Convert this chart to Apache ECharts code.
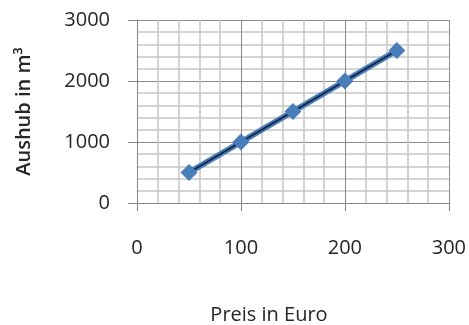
<!DOCTYPE html>
<html>
<head>
<meta charset="UTF-8">
<title>Aushub</title>
<script type="text/javascript" src="https://cdn.jsdelivr.net/npm/echarts@6/dist/echarts.min.js"></script>
</head>
<body style="margin:0;background:#fff">
	<div id="show" style="width:469px;height:325px"></div>
	<script type="text/javascript">
		// Preis in Euro -> Aushub in m3
		var preis=[50,100,150,200,250];
		var aushub=[500,1000,1500,2000,2500];
		var xTicks=[0,100,200,300];
		var yTicks=[0,1000,2000,3000];

		var pts=[];
		for(var i=0;i<preis.length;i++){
			pts.push([preis[i],aushub[i]]);
		}
		var font='"Open Sans", sans-serif';

		var myCharts=echarts.init(document.getElementById('show'));
		myCharts.setOption({
			animation:false,
			grid:{left:137,right:18,top:20,bottom:122},
			xAxis:{
				type:'value',
				min:xTicks[0],
				max:xTicks[xTicks.length-1],
				interval:100,
				axisLine:{show:true,lineStyle:{color:'#868686',width:1}},
				axisTick:{show:true,length:8,lineStyle:{color:'#868686'}},
				axisLabel:{margin:35,fontFamily:font,fontSize:20,color:'#262626',
					formatter:function(v){return String(v);}},
				splitLine:{show:true,lineStyle:{color:'#8a8a8a',width:1}},
				minorTick:{show:false,splitNumber:5},
				minorSplitLine:{show:true,lineStyle:{color:'#c6c6c6',width:1.5}}
			},
			yAxis:{
				type:'value',
				min:yTicks[0],
				max:yTicks[yTicks.length-1],
				interval:1000,
				name:'Aushub in m\u00b3',
				nameLocation:'middle',
				nameGap:103,
				nameRotate:90,
				nameTextStyle:{fontFamily:font,fontSize:20,fontWeight:600,color:'#262626'},
				axisLine:{show:true,lineStyle:{color:'#868686',width:1}},
				axisTick:{show:true,length:9,lineStyle:{color:'#868686'}},
				axisLabel:{margin:27,fontFamily:font,fontSize:20,color:'#262626',
					formatter:function(v){return String(v);}},
				splitLine:{show:true,lineStyle:{color:'#8a8a8a',width:1}},
				minorTick:{show:false,splitNumber:5},
				minorSplitLine:{show:true,lineStyle:{color:'#c6c6c6',width:1.5}}
			},
			graphic:[{
				type:'text',
				x:269,
				y:315,
				style:{
					text:'Preis in Euro',
					fontFamily:font,
					fontSize:20,
					fill:'#262626',
					align:'center',
					verticalAlign:'middle'
				}
			}],
			series:[{
				name:'Aushub',
				type:'line',
				data:pts,
				symbol:'diamond',
				symbolSize:17,
				itemStyle:{color:'#4a7ebb'},
				lineStyle:{color:'#4a7ebb',width:6}
			},{
				name:'Trend',
				type:'line',
				data:pts,
				symbol:'none',
				lineStyle:{color:'#14253f',width:2}
			}]
		});
	</script>
</body>
</html>
